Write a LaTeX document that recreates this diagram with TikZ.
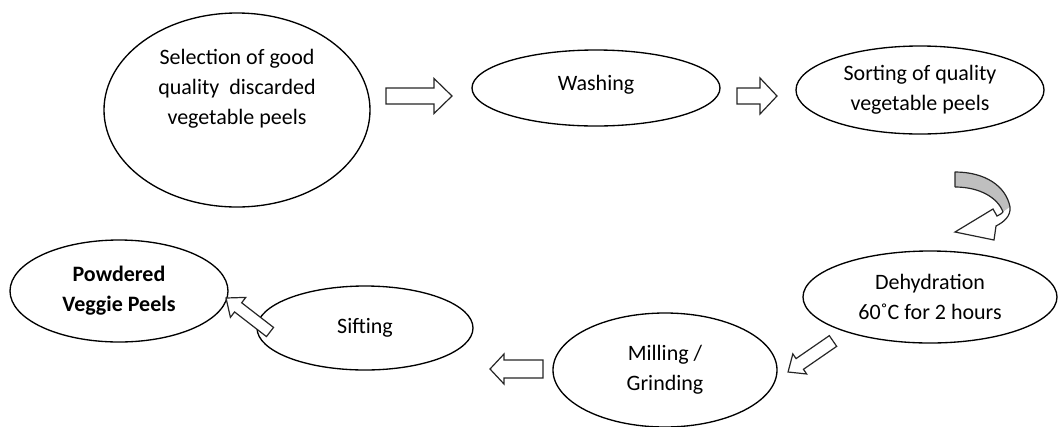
\documentclass[tikz,border=0pt]{standalone}
\usepackage{fontspec}
\setmainfont{Carlito}
\usetikzlibrary{shapes.geometric,calc}
\newcommand\blockarr[6]{%
  \draw[arrowline,shift={#1},rotate=#2] (0,-#4) -- ({#3-#6},-#4) -- ({#3-#6},-#5) -- (#3,0) -- ({#3-#6},#5) -- ({#3-#6},#4) -- (0,#4) -- cycle;}
\begin{document}
\begin{tikzpicture}[x=0.75pt,y=-0.75pt,
  stage/.style={ellipse,draw,line width=1pt,inner sep=0pt,align=center,
    font=\fontsize{16.5}{22.5}\selectfont},
  txt/.style={align=center,font=\fontsize{16.5}{22.5}\selectfont,inner sep=0pt},
  arrowline/.style={draw=black!85,line width=0.9pt,fill=white,line join=miter}]
\useasboundingbox (0,0) rectangle (1058,426);
% stages
\node[stage,minimum width=199.5pt,minimum height=145.5pt] (e1) at (237,110) {};
\node[txt] (t1) at (237,89) {Selection of good\\quality~ discarded\\vegetable peels};
\node[stage,minimum width=186pt,minimum height=57pt] (e2) at (596,88) {};
\node[txt] (t2) at (596,85) {Washing};
\node[stage,minimum width=186pt,minimum height=66pt] (e3) at (920,90) {Sorting of quality\\vegetable peels};
\node[stage,minimum width=190.5pt,minimum height=69pt] (e4) at (930,297) {Dehydration\\60˚C for 2 hours};
\node[stage,minimum width=168pt,minimum height=85.5pt] (e5) at (665,370) {Milling /\\Grinding};
\node[stage,minimum width=162pt,minimum height=63pt] (e6) at (365,328) {Sifting};
\node[stage,minimum width=163.5pt,minimum height=76.5pt,font=\fontsize{16.5}{22.5}\selectfont\bfseries] (e7) at (119,291) {Powdered\\Veggie Peels};
% straight block arrows
\blockarr{(386,96)}{0}{66}{8}{17.5}{18}
\blockarr{(737,96)}{0}{40}{8}{18}{17}
\blockarr{(833,341)}{214.6}{54.6}{6.5}{12.2}{14.2}
\blockarr{(543,369)}{180}{53}{9}{15}{14}
\blockarr{(270,332)}{142.3}{55.6}{5.8}{12.6}{15.3}
% curved arrow
\coordinate (ca) at (955,172);
\fill[black!25] (955,172) .. controls (985,172) and (1006,186) .. (1010,207)
  .. controls (1007,210) and (1005,211) .. (1003,212)
  .. controls (998,198) and (980,187) .. (955,187) -- cycle;
\draw[arrowline] (1010,207) .. controls (1011,216) and (1004,222) .. (996,226)
  -- (994,240) -- (955,232) -- (993,209) -- (997,216)
  .. controls (1000,215) and (1002,213) .. (1003,212);
\draw[draw=black!85,line width=0.9pt,line join=round] (955,187) -- (955,172) .. controls (985,172) and (1006,186) .. (1010,207);
\draw[draw=black!85,line width=0.9pt] (955,187) .. controls (980,187) and (998,198) .. (1003,212);
\end{tikzpicture}
\end{document}
